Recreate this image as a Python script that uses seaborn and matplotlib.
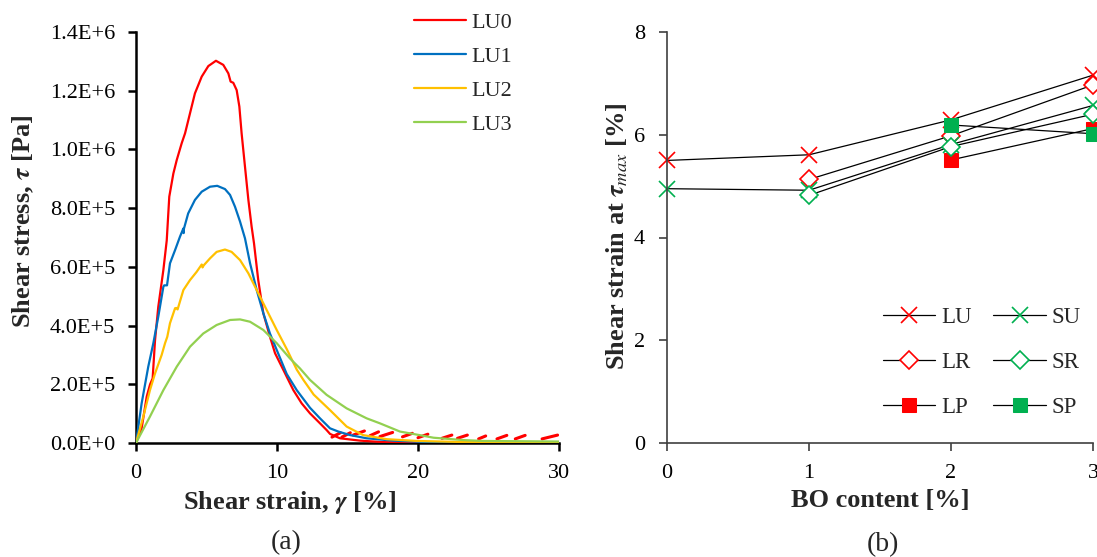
import numpy as np
import pandas as pd
import matplotlib
matplotlib.use("Agg")
import matplotlib.pyplot as plt
import seaborn as sns
from matplotlib.ticker import FuncFormatter

sns.set_theme(style="white")
plt.rcParams['font.family'] = ['Liberation Serif', 'DejaVu Serif']
plt.rcParams['mathtext.fontset'] = 'stix'

# ---------------- Panel (a) data: shear stress (1E6 Pa) vs shear strain (%) ----------------
lu0_x = [0, 0.4, 0.76, 1.0, 1.18, 1.35, 1.58, 1.94, 2.18, 2.36, 2.65, 2.89, 3.24, 3.48, 3.83,
         4.18, 4.66, 5.13, 5.67, 6.19, 6.55, 6.71, 6.9, 7.14, 7.33, 7.49, 7.73, 7.97, 8.2, 8.37,
         8.67, 9.03, 9.5, 9.86, 10.45, 11.16, 11.75, 12.34, 13.05, 13.52, 13.76, 14.47, 15.9,
         17.5, 20, 25, 30]
lu0_y = [0, 0.05, 0.158, 0.2, 0.22, 0.35, 0.464, 0.589, 0.69, 0.839, 0.918, 0.964, 1.021, 1.055,
         1.123, 1.191, 1.248, 1.284, 1.302, 1.288, 1.259, 1.231, 1.227, 1.202, 1.146, 1.055, 0.941,
         0.828, 0.737, 0.68, 0.555, 0.442, 0.362, 0.306, 0.249, 0.18, 0.135, 0.101, 0.067, 0.044,
         0.031, 0.016, 0.008, 0.003, 0.001, 0.0, 0.0]

# red saw-tooth fragments in the tail of LU0
lu0_dash_x0 = [13.9, 14.6, 15.4, 16.6, 17.3, 18.9, 20.0, 21.7, 22.8, 24.3, 25.6, 26.9, 28.8]
lu0_dash_x1 = [14.5, 15.2, 16.2, 17.2, 18.2, 19.6, 20.7, 22.4, 23.5, 24.8, 26.3, 27.6, 29.9]
lu0_dash_y0 = [0.020, 0.020, 0.027, 0.025, 0.022, 0.021, 0.018, 0.016, 0.016, 0.014, 0.014, 0.014, 0.014]
lu0_dash_y1 = [0.035, 0.035, 0.041, 0.038, 0.036, 0.033, 0.030, 0.027, 0.027, 0.024, 0.026, 0.026, 0.027]

lu1_x = [0, 0.4, 0.87, 1.23, 1.58, 1.94, 2.0, 2.2, 2.41, 2.77, 3.12, 3.36, 3.38, 3.4, 3.7, 4.18,
         4.66, 5.25, 5.76, 6.31, 6.67, 7.02, 7.38, 7.73, 8.09, 8.56, 9.03, 9.5, 9.98, 10.69, 11.4,
         12.34, 13.05, 13.76, 14.35, 15.18, 16.36, 18.25, 21.1, 25, 30]
lu1_y = [0, 0.135, 0.26, 0.34, 0.43, 0.532, 0.537, 0.537, 0.612, 0.657, 0.703, 0.731, 0.715, 0.73,
         0.782, 0.828, 0.856, 0.873, 0.876, 0.865, 0.845, 0.805, 0.754, 0.697, 0.612, 0.521, 0.442,
         0.373, 0.317, 0.235, 0.18, 0.12, 0.084, 0.05, 0.039, 0.027, 0.016, 0.008, 0.002, 0.001, 0.0]

lu2_x = [0, 0.52, 0.99, 1.35, 1.82, 2.06, 2.22, 2.41, 2.77, 2.85, 2.95, 3.36, 3.83, 4.3, 4.66,
         4.72, 4.8, 5.25, 5.72, 6.31, 6.78, 7.38, 7.97, 8.56, 9.27, 9.98, 10.69, 11.4, 11.87,
         12.6, 13.76, 14.94, 16.1, 17.78, 19.9, 23.4, 30]
lu2_y = [0, 0.09, 0.18, 0.237, 0.3, 0.34, 0.362, 0.408, 0.459, 0.46, 0.455, 0.521, 0.555, 0.583,
         0.608, 0.598, 0.605, 0.629, 0.651, 0.659, 0.651, 0.623, 0.578, 0.521, 0.453, 0.385, 0.32,
         0.25, 0.215, 0.165, 0.112, 0.056, 0.027, 0.013, 0.007, 0.003, 0.002]

lu3_x = [0, 0.99, 1.94, 2.89, 3.83, 4.77, 5.72, 6.67, 7.38, 8.09, 9.03, 9.98, 10.92, 11.63,
         12.34, 13.52, 14.94, 16.36, 17.3, 18.72, 20.1, 21.1, 23.2, 24.6, 30]
lu3_y = [0, 0.09, 0.18, 0.26, 0.328, 0.373, 0.402, 0.419, 0.421, 0.413, 0.385, 0.34, 0.288, 0.254,
         0.215, 0.164, 0.118, 0.084, 0.067, 0.039, 0.027, 0.018, 0.01, 0.007, 0.005]

curve_labels = ["LU0", "LU1", "LU2", "LU3"]
curve_colors = ["#FF0000", "#0070C0", "#FFC000", "#92D050"]

# ---------------- Panel (b) data: shear strain at tau_max (%) vs BO content (%) ----------------
lu_x, lu_y = [0, 1, 2, 3], [5.50, 5.61, 6.29, 7.16]
lr_x, lr_y = [1, 2, 3], [5.13, 5.98, 6.97]
lp_x, lp_y = [2, 3], [5.51, 6.12]
su_x, su_y = [0, 1, 2, 3], [4.95, 4.92, 5.81, 6.57]
sr_x, sr_y = [1, 2, 3], [4.82, 5.77, 6.40]
sp_x, sp_y = [2, 3], [6.19, 6.02]

RED = "#FF0000"
GREEN = "#00B050"

fig = plt.figure(figsize=(10.97, 5.57), dpi=100)
axA = fig.add_axes([136 / 1097, 1 - 443 / 557, (559 - 136) / 1097, (443 - 32) / 557])
axB = fig.add_axes([667 / 1097, 1 - 443 / 557, (1093 - 667) / 1097, (443 - 32) / 557])

# ---- Panel (a)
for xs, ys, lab, col in zip([lu0_x, lu1_x, lu2_x, lu3_x], [lu0_y, lu1_y, lu2_y, lu3_y],
                            curve_labels, curve_colors):
    df = pd.DataFrame({"x": xs, "y": np.array(ys) * 1e6})
    sns.lineplot(data=df, x="x", y="y", ax=axA, color=col, lw=1.6, sort=False,
                 estimator=None, label=lab, zorder=3)
    if lab == "LU0":
        seg = pd.DataFrame({
            "x": np.ravel(np.column_stack([lu0_dash_x0, lu0_dash_x1])),
            "y": np.ravel(np.column_stack([lu0_dash_y0, lu0_dash_y1])) * 1e6,
            "u": np.repeat(np.arange(len(lu0_dash_x0)), 2)})
        sns.lineplot(data=seg, x="x", y="y", units="u", estimator=None, ax=axA,
                     color=col, lw=2.2, sort=False, legend=False, zorder=2)

axA.set_xlim(0, 30)
axA.set_ylim(0, 1.4e6)
axA.set_xticks([0, 10, 20, 30])
axA.set_yticks(np.arange(0, 1.4e6 + 1, 2e5))


def excel_sci(v, pos):
    if v == 0:
        return "0.0E+0"
    e = int(np.floor(np.log10(abs(v)) + 1e-9))
    m = v / 10 ** e
    return f"{m:.1f}E+{e}"


axA.yaxis.set_major_formatter(FuncFormatter(excel_sci))
for s in ["top", "right"]:
    axA.spines[s].set_visible(False)
for s in ["left", "bottom"]:
    axA.spines[s].set_color("black")
    axA.spines[s].set_linewidth(1.8)
axA.tick_params(axis="both", direction="out", length=6, width=1.8, color="black",
                labelsize=16, labelcolor="black", left=True, bottom=True)
axA.tick_params(axis="y", pad=9)
axA.tick_params(axis="x", pad=9)
axA.set_xlabel(r"Shear strain, $\boldsymbol{\gamma}$ [%]", fontsize=19, fontweight="bold")
axA.set_ylabel(r"Shear stress, $\boldsymbol{\tau}$ [Pa]", fontsize=19, fontweight="bold")
axA.xaxis.set_label_coords((290 - 136) / 423, -(502 - 443) / 411)
axA.xaxis.label.set_va("center")
axA.yaxis.set_label_coords((23 - 136) / 423, (443 - 221) / 411)
axA.yaxis.label.set_va("center")
axA.legend(loc="upper left", bbox_to_anchor=(410 / 1097, 1 - 8 / 557), bbox_transform=fig.transFigure,
           frameon=False, fontsize=16, handlelength=2.3, handletextpad=0.25, labelspacing=0.6,
           borderaxespad=0, borderpad=0.2)

# ---- Panel (b)
series_b = [
    ("LU", lu_x, lu_y, dict(marker="x", markersize=12, markeredgecolor=RED, markeredgewidth=1.2)),
    ("LR", lr_x, lr_y, dict(marker="D", markersize=9, markerfacecolor="white", markeredgecolor=RED, markeredgewidth=1.2)),
    ("LP", lp_x, lp_y, dict(marker="s", markersize=10.5, markerfacecolor=RED, markeredgecolor=RED)),
    ("SU", su_x, su_y, dict(marker="x", markersize=12, markeredgecolor=GREEN, markeredgewidth=1.2)),
    ("SR", sr_x, sr_y, dict(marker="D", markersize=9, markerfacecolor="white", markeredgecolor=GREEN, markeredgewidth=1.2)),
    ("SP", sp_x, sp_y, dict(marker="s", markersize=10.5, markerfacecolor=GREEN, markeredgecolor=GREEN)),
]
for lab, xs, ys, mk in series_b:
    df = pd.DataFrame({"x": xs, "y": ys})
    sns.lineplot(data=df, x="x", y="y", ax=axB, color="black", lw=0.9, label=lab,
                 estimator=None, sort=False, clip_on=False, **mk)

axB.set_xlim(0, 3)
axB.set_ylim(0, 8)
axB.set_xticks([0, 1, 2, 3])
axB.set_yticks([0, 2, 4, 6, 8])
for s in ["top", "right"]:
    axB.spines[s].set_visible(False)
for s in ["left", "bottom"]:
    axB.spines[s].set_color("#404040")
    axB.spines[s].set_linewidth(1.2)
axB.tick_params(axis="both", direction="out", length=6, width=1.2, color="#404040",
                labelsize=16, labelcolor="black", left=True, bottom=True)
axB.tick_params(axis="y", pad=10)
axB.tick_params(axis="x", pad=9)
axB.set_xlabel("BO content [%]", fontsize=19, fontweight="bold")
axB.set_ylabel(r"Shear strain at $\boldsymbol{\tau}_{\mathit{max}}$ [%]", fontsize=19,
               fontweight="bold")
axB.xaxis.set_label_coords((880 - 667) / 426, -(500 - 443) / 411)
axB.xaxis.label.set_va("center")
axB.yaxis.set_label_coords((617 - 667) / 426, (443 - 236) / 411)
axB.yaxis.label.set_va("center")
axB.legend(loc="upper left", bbox_to_anchor=(878 / 1097, 1 - 302 / 557), bbox_transform=fig.transFigure,
           ncol=2, frameon=False, fontsize=16.5, handlelength=2.3, handletextpad=0.25,
           labelspacing=1.05, columnspacing=0.95, borderaxespad=0, borderpad=0.2)

fig.text(286 / 1097, 1 - 543 / 557, "(a)", fontsize=20, ha="center", va="center")
fig.text(883 / 1097, 1 - 545 / 557, "(b)", fontsize=20, ha="center", va="center")

fig.savefig("out.png", dpi=100)
